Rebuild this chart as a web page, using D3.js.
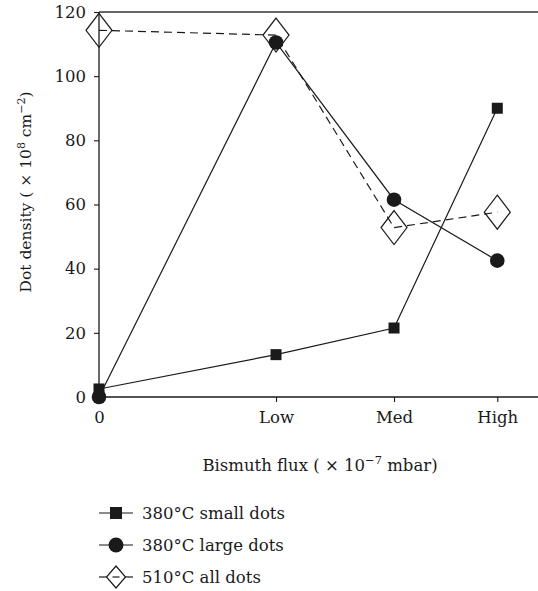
<!DOCTYPE html>
<html>
<head>
<meta charset="utf-8">
<script src="https://cdn.jsdelivr.net/npm/d3@7"></script>
<style>
  html, body { margin: 0; padding: 0; background: #fff; }
  svg { display: block; }
  text { font-family: "DejaVu Serif", "Liberation Serif", serif; fill: #1a1a1a; }
</style>
</head>
<body>
<svg id="chart" width="538" height="591"></svg>
<script>
// ---- data ----
const categories = ["0", "Low", "Med", "High"];
const fluxValues = [0, 3, 5, 6.75];           // relative flux positions
const smallDots380 = [2.5, 13.2, 21.5, 90];
const largeDots380 = [0, 110.5, 61.5, 42.5];
const allDots510 = [114.3, 112.8, 52.8, 57.6];
const yTicks = [0, 20, 40, 60, 80, 100, 120];
const seriesNames = ["380°C small dots", "380°C large dots", "510°C all dots"];

// ---- layout ----
const svg = d3.select("#chart");
const plotLeft = 99, plotRight = 538, plotTop = 12, plotBottom = 397;
const x = d3.scaleLinear().domain([0, 7.44]).range([plotLeft, plotRight]);
const y = d3.scaleLinear().domain([0, 120]).range([plotBottom, plotTop]);
const ink = "#1a1a1a";
const fs = 16.5;

// axes
const xAxis = svg.append("g").attr("transform", `translate(0,${plotBottom})`)
  .call(d3.axisBottom(x).tickValues(fluxValues).tickFormat((d, i) => categories[i])
    .tickSize(5).tickSizeOuter(0).tickPadding(9));
const yAxis = svg.append("g").attr("transform", `translate(${plotLeft},0)`)
  .call(d3.axisLeft(y).tickValues(yTicks).tickSize(5).tickSizeOuter(0).tickPadding(8));
[xAxis, yAxis].forEach(g => {
  g.select(".domain").remove();
  g.selectAll("line").attr("stroke", ink).attr("stroke-width", 1.1);
  g.selectAll("text").attr("font-size", fs).attr("fill", ink)
    .style("font-family", '"DejaVu Serif", "Liberation Serif", serif');
});
// axis lines + top border
svg.append("line").attr("x1", plotLeft).attr("x2", plotRight).attr("y1", plotBottom).attr("y2", plotBottom)
  .attr("stroke", ink).attr("stroke-width", 1.3);
svg.append("line").attr("x1", plotLeft).attr("x2", plotLeft).attr("y1", plotTop).attr("y2", plotBottom)
  .attr("stroke", ink).attr("stroke-width", 1.3);
svg.append("line").attr("x1", plotLeft).attr("x2", plotRight).attr("y1", plotTop).attr("y2", plotTop)
  .attr("stroke", "#333").attr("stroke-width", 1.3);

// axis titles
const xt = svg.append("text").attr("x", 320).attr("y", 471).attr("text-anchor", "middle").attr("font-size", fs);
xt.append("tspan").text("Bismuth flux ( × 10");
xt.append("tspan").attr("baseline-shift", "super").attr("font-size", 11.5).text("−7");
xt.append("tspan").text(" mbar)");

const yt = svg.append("text").attr("transform", "translate(31,192) rotate(-90)")
  .attr("text-anchor", "middle").attr("font-size", 15.5);
yt.append("tspan").text("Dot density ( × 10");
yt.append("tspan").attr("baseline-shift", "super").attr("font-size", 11).text("8");
yt.append("tspan").text(" cm");
yt.append("tspan").attr("baseline-shift", "super").attr("font-size", 11).text("−2");
yt.append("tspan").text(")");

// marker helpers
function diamond(g, cx, cy, hw, hh) {
  g.append("path")
    .attr("d", `M${cx},${cy - hh}L${cx + hw},${cy}L${cx},${cy + hh}L${cx - hw},${cy}Z`)
    .attr("fill", "none").attr("stroke", ink).attr("stroke-width", 1.2);
}
function square(g, cx, cy, s) {
  g.append("rect").attr("x", cx - s / 2).attr("y", cy - s / 2).attr("width", s).attr("height", s)
    .attr("fill", ink);
}
function circle(g, cx, cy, r) {
  g.append("circle").attr("cx", cx).attr("cy", cy).attr("r", r).attr("fill", ink);
}

const line = d3.line().x((d, i) => x(fluxValues[i])).y(d => y(d));
const plot = svg.append("g");

// 510 all dots (dashed, open diamonds)
plot.append("path").datum(allDots510).attr("d", line).attr("fill", "none")
  .attr("stroke", ink).attr("stroke-width", 1.2).attr("stroke-dasharray", "8,5");
allDots510.forEach((v, i) => diamond(plot, x(fluxValues[i]), y(v), 13, 17));

// 380 large dots
plot.append("path").datum(largeDots380).attr("d", line).attr("fill", "none")
  .attr("stroke", ink).attr("stroke-width", 1.2);
largeDots380.forEach((v, i) => circle(plot, x(fluxValues[i]), y(v), 7.3));

// 380 small dots
plot.append("path").datum(smallDots380).attr("d", line).attr("fill", "none")
  .attr("stroke", ink).attr("stroke-width", 1.2);
smallDots380.forEach((v, i) => square(plot, x(fluxValues[i]), y(v), 11));

// legend
const legY = [513, 545, 577];
const leg = svg.append("g");
seriesNames.forEach((name, i) => {
  const cy = legY[i];
  if (i < 2) {
    leg.append("line").attr("x1", 99).attr("x2", 133).attr("y1", cy).attr("y2", cy)
      .attr("stroke", ink).attr("stroke-width", 1.2);
  } else {
    leg.append("line").attr("x1", 99).attr("x2", 107).attr("y1", cy).attr("y2", cy)
      .attr("stroke", ink).attr("stroke-width", 1.2);
    leg.append("line").attr("x1", 112.5).attr("x2", 119.5).attr("y1", cy).attr("y2", cy)
      .attr("stroke", ink).attr("stroke-width", 1.2);
    leg.append("line").attr("x1", 125).attr("x2", 133).attr("y1", cy).attr("y2", cy)
      .attr("stroke", ink).attr("stroke-width", 1.2);
  }
  if (i === 0) square(leg, 116, cy, 12);
  else if (i === 1) circle(leg, 116, cy, 7.5);
  else diamond(leg, 116, cy, 9.5, 11);
  leg.append("text").attr("x", 142).attr("y", cy).attr("dy", "0.36em")
    .attr("font-size", fs).text(name);
});
</script>
</body>
</html>
